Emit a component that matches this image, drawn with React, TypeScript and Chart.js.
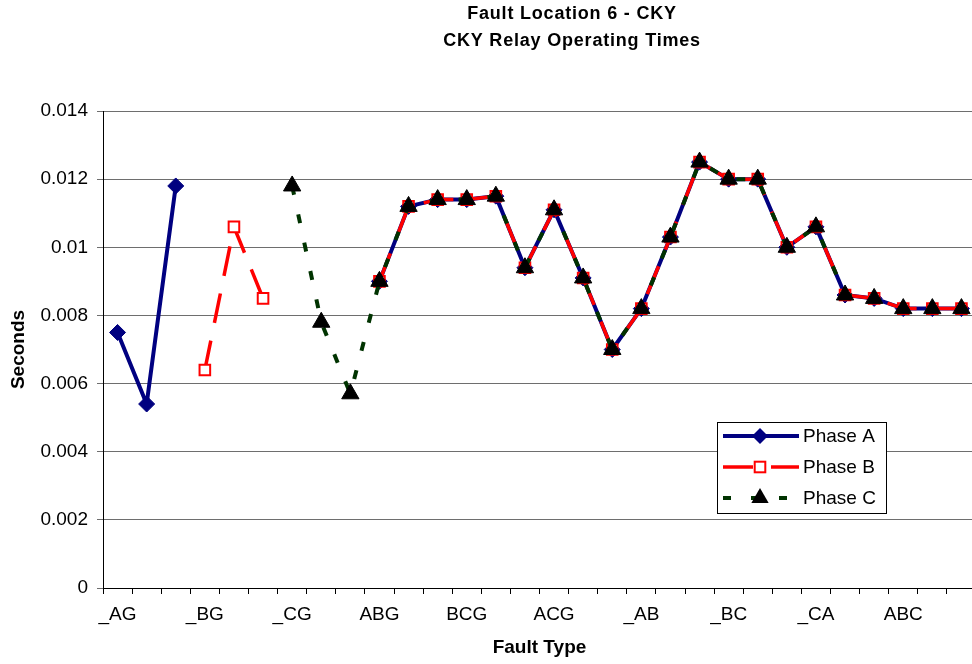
import React, { useEffect, useRef } from "react";
import { Chart, registerables } from "chart.js";

Chart.register(...registerables);

const titleLines = ["Fault Location 6 - CKY", "CKY Relay Operating Times"];
const xAxisTitle = "Fault Type";
const yAxisTitle = "Seconds";

const faultTypes = ["_AG", "_BG", "_CG", "ABG", "BCG", "ACG", "_AB", "_BC", "_CA", "ABC"];
const categories = faultTypes.flatMap((t) => [t, t, t]);

const seriesNames = ["Phase A", "Phase B", "Phase C"];

const phaseA = [
  0.0075, 0.0054, 0.0118, null, null, null, null, null, null,
  0.009, 0.0112, 0.0114, 0.0114, 0.0115, 0.0094, 0.0111, 0.0091, 0.007,
  0.0082, 0.0103, 0.0125, 0.012, 0.012, 0.01, 0.0106, 0.0086, 0.0085,
  0.0082, 0.0082, 0.0082,
];
const phaseB = [
  null, null, null, 0.0064, 0.0106, 0.0085, null, null, null,
  0.009, 0.0112, 0.0114, 0.0114, 0.0115, 0.0094, 0.0111, 0.0091, 0.007,
  0.0082, 0.0103, 0.0125, 0.012, 0.012, 0.01, 0.0106, 0.0086, 0.0085,
  0.0082, 0.0082, 0.0082,
];
const phaseC = [
  null, null, null, null, null, null, 0.0118, 0.0078, 0.0057,
  0.009, 0.0112, 0.0114, 0.0114, 0.0115, 0.0094, 0.0111, 0.0091, 0.007,
  0.0082, 0.0103, 0.0125, 0.012, 0.012, 0.01, 0.0106, 0.0086, 0.0085,
  0.0082, 0.0082, 0.0082,
];

const yMin = 0;
const yMax = 0.014;
const yStep = 0.002;

const NAVY = "#000080";
const RED = "#FF0000";
const GREEN = "#003300";
const FONT = "'Liberation Sans', Arial, sans-serif";

function drawMarker(ctx: CanvasRenderingContext2D, kind: string, x: number, y: number) {
  ctx.save();
  ctx.setLineDash([]);
  if (kind === "diamond") {
    const r = 8;
    ctx.beginPath();
    ctx.moveTo(x, y - r);
    ctx.lineTo(x + r, y);
    ctx.lineTo(x, y + r);
    ctx.lineTo(x - r, y);
    ctx.closePath();
    ctx.fillStyle = NAVY;
    ctx.fill();
  } else if (kind === "square") {
    const s = 5.3;
    ctx.fillStyle = "#fff";
    ctx.strokeStyle = RED;
    ctx.lineWidth = 2;
    ctx.fillRect(x - s, y - s, 2 * s, 2 * s);
    ctx.strokeRect(x - s, y - s, 2 * s, 2 * s);
  } else {
    const r = 10;
    ctx.beginPath();
    ctx.moveTo(x, y - r);
    ctx.lineTo(x + r * 0.866, y + r * 0.5);
    ctx.lineTo(x - r * 0.866, y + r * 0.5);
    ctx.closePath();
    ctx.fillStyle = "#000";
    ctx.fill();
  }
  ctx.restore();
}

const overlayPlugin = {
  id: "overlay",
  afterDraw(chart: any) {
    const ctx: any = chart.ctx;
    ctx.save();
    // Title
    ctx.fillStyle = "#000";
    ctx.font = `bold 18px ${FONT}`;
    ctx.textAlign = "center";
    ctx.textBaseline = "alphabetic";
    try { ctx.letterSpacing = "0.8px"; } catch (e) {}
    ctx.fillText(titleLines[0], 572, 19);
    ctx.fillText(titleLines[1], 572, 46);
    try { ctx.letterSpacing = "0px"; } catch (e) {}

    // Legend
    const bx = 717, by = 422, bw = 169, bh = 91;
    ctx.fillStyle = "#fff";
    ctx.fillRect(bx, by, bw, bh);
    ctx.strokeStyle = "#000";
    ctx.lineWidth = 1;
    ctx.strokeRect(bx + 0.5, by + 0.5, bw, bh);

    const rows = [
      { y: 436, color: NAVY, width: 4, dash: [] as number[], marker: "diamond" },
      { y: 467, color: RED, width: 3.5, dash: [30, 18], marker: "square" },
      { y: 498, color: GREEN, width: 4, dash: [8, 20], marker: "triangle" },
    ];
    rows.forEach((r, i) => {
      ctx.save();
      ctx.strokeStyle = r.color;
      ctx.lineWidth = r.width;
      ctx.setLineDash(r.dash);
      ctx.beginPath();
      ctx.moveTo(723, r.y);
      ctx.lineTo(799, r.y);
      ctx.stroke();
      ctx.restore();
      drawMarker(ctx, r.marker, 760, r.y);
      ctx.fillStyle = "#000";
      ctx.font = `19px ${FONT}`;
      ctx.textAlign = "left";
      ctx.textBaseline = "middle";
      ctx.fillText(seriesNames[i], 803, r.y + 1);
    });
    ctx.restore();
  },
};

export default function App() {
  const canvasRef = useRef<HTMLCanvasElement | null>(null);

  useEffect(() => {
    const canvas = canvasRef.current;
    if (!canvas) return;
    const chart = new Chart(canvas, {
      type: "line",
      data: {
        labels: categories,
        datasets: [
          {
            label: seriesNames[0],
            data: phaseA,
            borderColor: NAVY,
            backgroundColor: NAVY,
            borderWidth: 4,
            pointStyle: "rectRot",
            pointRadius: 8,
            pointBackgroundColor: NAVY,
            pointBorderColor: NAVY,
            pointBorderWidth: 1,
            tension: 0,
            spanGaps: false,
            order: 2,
          },
          {
            label: seriesNames[1],
            data: phaseB,
            borderColor: RED,
            backgroundColor: "#fff",
            borderWidth: 3.5,
            borderDash: [30, 18],
            pointStyle: "rect",
            pointRadius: 7.5,
            pointBackgroundColor: "#fff",
            pointBorderColor: RED,
            pointBorderWidth: 2,
            tension: 0,
            spanGaps: false,
            order: 1,
          },
          {
            label: seriesNames[2],
            data: phaseC,
            borderColor: GREEN,
            backgroundColor: "#000",
            borderWidth: 4,
            borderDash: [9, 20],
            pointStyle: "triangle",
            pointRadius: 10,
            pointBackgroundColor: "#000",
            pointBorderColor: "#000",
            pointBorderWidth: 1,
            tension: 0,
            spanGaps: false,
            order: 0,
          },
        ],
      },
      options: {
        responsive: false,
        animation: false,
        events: [],
        layout: { padding: { top: 111, left: 0, right: 0, bottom: 0 } },
        plugins: {
          legend: { display: false },
          title: { display: false },
          tooltip: { enabled: false },
        },
        scales: {
          x: {
            type: "category",
            offset: true,
            grid: {
              offset: true,
              drawOnChartArea: false,
              drawTicks: true,
              tickLength: 6,
              color: "#000",
            },
            border: { display: true, color: "#000", width: 1 },
            ticks: {
              autoSkip: false,
              maxRotation: 0,
              minRotation: 0,
              padding: 9,
              color: "#000",
              font: { family: FONT, size: 19 },
              callback: (_v: any, i: number) => (i % 3 === 0 ? categories[i] : ""),
            },
            title: {
              display: true,
              text: xAxisTitle,
              color: "#000",
              font: { family: FONT, size: 19, weight: "bold" },
              padding: { top: 0, bottom: 5 },
            },
            afterFit: (scale: any) => {
              scale.height = 76;
            },
          },
          y: {
            type: "linear",
            min: yMin,
            max: yMax,
            grid: {
              color: "#6e6e6e",
              lineWidth: 1,
              drawTicks: true,
              tickLength: 6,
            },
            border: { display: true, color: "#000", width: 1 },
            ticks: {
              stepSize: yStep,
              padding: 9,
              color: "#000",
              font: { family: FONT, size: 19 },
              callback: (v: any) => String(parseFloat(Number(v).toFixed(4))),
            },
            title: {
              display: true,
              text: yAxisTitle,
              color: "#000",
              font: { family: FONT, size: 19, weight: "bold" },
              padding: { top: 7, bottom: 0 },
            },
            afterFit: (scale: any) => {
              scale.width = 103;
            },
          },
        },
      },
      plugins: [overlayPlugin],
    });
    return () => chart.destroy();
  }, []);

  return (
    <div
      style={{
        position: "absolute",
        left: 0,
        top: 0,
        width: 972,
        height: 664,
        overflow: "hidden",
        background: "#fff",
      }}
    >
      <canvas ref={canvasRef} width={987} height={664} style={{ display: "block" }} />
    </div>
  );
}
